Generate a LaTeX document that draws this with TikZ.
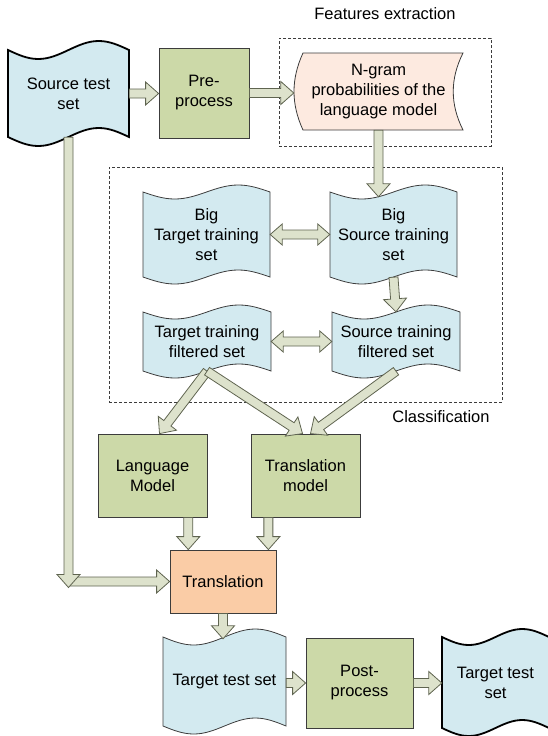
\documentclass[tikz,border=0pt]{standalone}
\usepackage{fontspec}
\setmainfont{Liberation Sans}
\usetikzlibrary{calc}
\definecolor{docblue}{HTML}{D3EAF0}
\definecolor{boxgreen}{HTML}{CCD9A8}
\definecolor{peach}{HTML}{FDEAE0}
\definecolor{orangebox}{HTML}{FACCA6}
\definecolor{arrfill}{HTML}{DDE2CC}
\definecolor{arrline}{HTML}{5F6450}
\definecolor{edgegray}{HTML}{3C3C3C}
\newcommand\mainsize{\fontsize{16.5}{20}\selectfont}
% wave document: [style]{x0}{x1}{ytop}{ybot}{amp}
\newcommand\wavedoc[6][]{%
 \pgfmathsetmacro\wdq{(#3-#2)/4}%
 \draw[#1] (#2,#4) sin ({#2+\wdq},{#4+#6}) cos ({#2+2*\wdq},#4) sin ({#2+3*\wdq},{#4-#6}) cos (#3,#4)
   -- (#3,#5) sin ({#2+3*\wdq},{#5-#6}) cos ({#2+2*\wdq},#5) sin ({#2+\wdq},{#5+#6}) cos (#2,#5) -- cycle;}
\newcommand\blockarrow[3][]{%
 \coordinate (ba-s) at (#2);
 \coordinate (ba-e) at (#3);
 \coordinate (ba-h) at ($(ba-e)!13pt!(ba-s)$);
 \draw[barrow,#1] ($(ba-s)!4.5pt!90:(ba-e)$) -- ($(ba-h)!4.5pt!-90:(ba-s)$) -- ($(ba-h)!11.5pt!-90:(ba-s)$)
   -- (ba-e) -- ($(ba-h)!11.5pt!90:(ba-s)$) -- ($(ba-h)!4.5pt!90:(ba-s)$) -- ($(ba-s)!4.5pt!-90:(ba-e)$) -- cycle;}
\newcommand\dblarrow[3][]{%
 \coordinate (ba-s) at (#2);
 \coordinate (ba-e) at (#3);
 \coordinate (ba-hs) at ($(ba-s)!12pt!(ba-e)$);
 \coordinate (ba-he) at ($(ba-e)!12pt!(ba-s)$);
 \draw[barrow,#1] (ba-s) -- ($(ba-hs)!10.5pt!90:(ba-e)$) -- ($(ba-hs)!4.5pt!90:(ba-e)$)
   -- ($(ba-he)!4.5pt!-90:(ba-s)$) -- ($(ba-he)!10.5pt!-90:(ba-s)$) -- (ba-e)
   -- ($(ba-he)!10.5pt!90:(ba-s)$) -- ($(ba-he)!4.5pt!90:(ba-s)$)
   -- ($(ba-hs)!4.5pt!-90:(ba-e)$) -- ($(ba-hs)!10.5pt!-90:(ba-e)$) -- cycle;}
\tikzset{
 barrow/.style={draw=arrline, fill=arrfill, line width=0.8pt, line join=miter},
 docshape/.style={draw=edgegray, fill=docblue, line width=0.8pt},
 thickdoc/.style={draw=black, fill=docblue, line width=1.8pt},
 greenbox/.style={draw=edgegray, fill=boxgreen, line width=0.8pt, inner sep=0pt, align=center},
 orangebox/.style={draw=edgegray, fill=orangebox, line width=0.8pt, inner sep=0pt, align=center},
 txt/.style={inner sep=0pt, align=center},
 groupbox/.style={draw=edgegray, dash pattern=on 3pt off 2pt, line width=0.7pt, inner sep=0pt},
}
\begin{document}
\begin{tikzpicture}[x=1pt, y=-1pt, font=\mainsize]
\useasboundingbox (0,0) rectangle (547,736);
% group boxes
\node[groupbox, minimum width=212pt, minimum height=108pt] (fbox) at (385,92) {};
\node[txt] (flabel) at (385,14) {Features extraction};
\node[groupbox, minimum width=393pt, minimum height=235pt] (cbox) at (305.5,284.5) {};
\node[txt] (clabel) at (441,417) {Classification};
% source test set
\wavedoc[thickdoc]{8}{129}{50}{137}{9}
\node[txt, minimum width=121pt, minimum height=87pt] (src) at (68.5,93.5) {Source test\\set};
% pre-process
\node[greenbox, minimum width=90pt, minimum height=90pt] (pre) at (204,93) {Pre-\\process};
% n-gram
\draw[draw=edgegray, fill=peach, line width=0.8pt] (303,53) -- (463,53) .. controls (450,79) and (450,104) .. (463,130)
  -- (303,130) .. controls (291,104) and (291,79) .. (303,53) -- cycle;
\node[txt, minimum width=169pt, minimum height=77pt] (ngram) at (378.5,91.5) {N-gram\\probabilities of the\\language model};
% classification documents
\wavedoc[docshape]{143}{270}{192}{277}{7}
\node[txt, minimum width=127pt, minimum height=85pt] (bigt) at (206.5,234.5) {Big\\Target training\\set};
\wavedoc[docshape]{330}{457}{192}{277}{7}
\node[txt, minimum width=127pt, minimum height=85pt] (bigs) at (393.5,234.5) {Big\\Source training\\set};
\wavedoc[docshape]{143}{271}{312}{371}{7}
\node[txt, minimum width=128pt, minimum height=59pt] (tf) at (207,341.5) {Target training\\filtered set};
\wavedoc[docshape]{332}{460}{312}{371}{7}
\node[txt, minimum width=128pt, minimum height=59pt] (sf) at (396,341.5) {Source training\\filtered set};
% models
\node[greenbox, minimum width=109pt, minimum height=83pt] (lm) at (152.5,475.5) {Language\\Model};
\node[greenbox, minimum width=109pt, minimum height=83pt] (tm) at (305.5,475.5) {Translation\\model};
\node[orangebox, minimum width=106pt, minimum height=63pt] (tr) at (223,581.5) {Translation};
% bottom row
\wavedoc[docshape]{163}{286}{637}{726}{8}
\node[txt, minimum width=123pt, minimum height=89pt] (tts) at (224.5,681.5) {Target test set};
\node[greenbox, minimum width=107pt, minimum height=90pt] (post) at (359.5,683) {Post-\\process};
\wavedoc[thickdoc]{442}{549}{637}{728}{8}
\node[txt, minimum width=107pt, minimum height=91pt] (ftt) at (495.5,682.5) {Target test\\set};
% connectors
\blockarrow{src.east}{src.east -| pre.west}
\blockarrow{pre.east}{pre.east -| ngram.west}
\coordinate (bigsin) at ($(ngram.south |- bigs.north)+(0,5)$);
\blockarrow{ngram.south}{bigsin}
\dblarrow{bigt.east}{bigs.west}
\blockarrow{bigs.south}{sf.north}
\dblarrow{tf.east}{sf.west}
\coordinate (lmin) at ($(lm.north)+(7,0)$);
\coordinate (tmin1) at ($(tm.north)+(-3,0)$);
\coordinate (tmin2) at ($(tm.north)+(5,0)$);
\blockarrow{tf.south}{lmin}
\blockarrow{tf.south}{tmin1}
\blockarrow{sf.south}{tmin2}
\coordinate (lmx) at ($(tr.north west)!0.175!(tr.north east)$);
\coordinate (tmx) at ($(tr.north west)!0.925!(tr.north east)$);
\blockarrow{lmx |- lm.south}{lmx}
\blockarrow{tmx |- tm.south}{tmx}
\blockarrow{src.south |- tr.west}{tr.west}
\coordinate (srcdown) at ($(src.south |- tr.west)+(0,6)$);
\blockarrow{src.south}{srcdown}
\coordinate (ttsin) at ($(tr.south |- tts.north)+(0,2)$);
\blockarrow{tr.south}{ttsin}
\blockarrow{tts.east |- post.west}{post.west}
\blockarrow{post.east}{post.east -| ftt.west}
\end{tikzpicture}
\end{document}
